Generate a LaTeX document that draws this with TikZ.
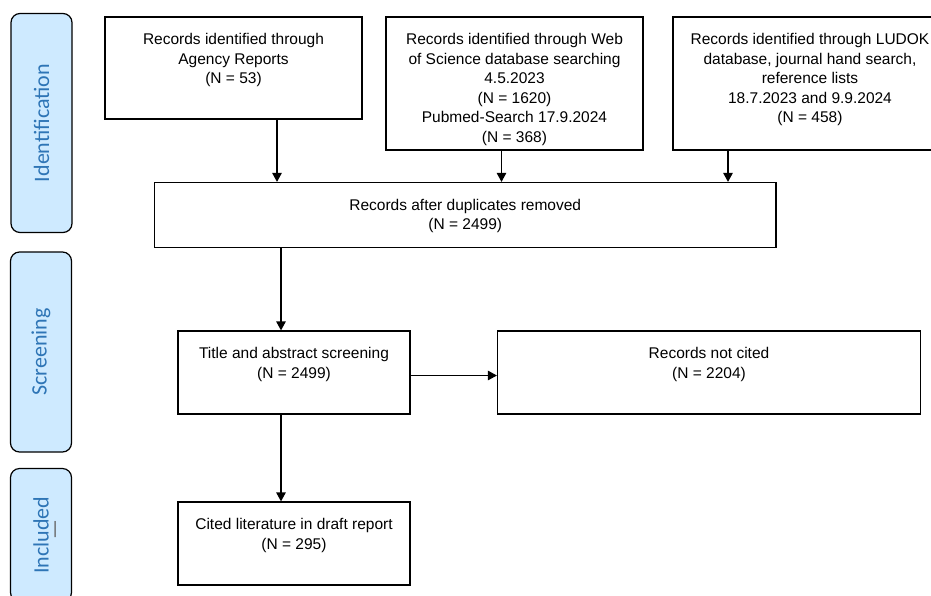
\documentclass[tikz,border=0pt]{standalone}
\usepackage{fontspec}
\setmainfont{Liberation Sans}
\newfontfamily\stagefont{Carlito}
\usetikzlibrary{arrows.meta}
\definecolor{stagefill}{RGB}{206,234,255}
\definecolor{stagetext}{RGB}{46,117,182}
\newcommand{\boxtext}[3]{\parbox[c][#2][t]{#1}{\centering\rule{0pt}{27.5pt}#3}}

\begin{document}
\begin{tikzpicture}[x=1pt, y=-1pt,
    recbox/.style={draw, line width=1.2pt, inner sep=0pt, font=\fontsize{15.5}{19.5}\selectfont},
    stagebox/.style={draw, line width=1.2pt, rounded corners=9pt, fill=stagefill, text=stagetext, rotate=90, minimum height=61pt, inner sep=0pt, font=\stagefont\fontsize{22}{22}\selectfont},
    arr/.style={-{Triangle[length=9pt, width=9.5pt]}, line width=1.2pt}]
          \useasboundingbox (0, 0) rectangle (931, 595);
          \clip (0, 0) rectangle (931, 595);
          \node [stagebox, minimum width=219pt] (ident) at (41.5, 123) {Identification};
          \node [stagebox, minimum width=200pt] (screen) at (41, 352) {Screening};
          \node [stagebox, minimum width=133pt] (incl) at (41, 535) {Included};
          \node [rotate=90, inner sep=0pt, text=black!60, font=\stagefont\fontsize{22}{22}\selectfont] (incldash) at (58, 530) {—};
          \node [recbox] (agency) at (233.5, 68) {\boxtext{257pt}{102pt}{Records identified through\\Agency Reports\\(N = 53)}};
          \node [recbox] (wos) at (514.5, 83.5) {\boxtext{257pt}{133pt}{Records identified through Web\\of Science database searching\\4.5.2023\\(N = 1620)\\Pubmed-Search 17.9.2024\\(N = 368)}};
          \node [recbox] (ludok) at (810, 83.5) {\boxtext{274pt}{133pt}{Records identified through LUDOK\\database, journal hand search,\\reference lists\\18.7.2023 and 9.9.2024\\(N = 458)}};
          \node [recbox] (dup) at (465.25, 215) {\boxtext{621.5pt}{65pt}{Records after duplicates removed\\(N = 2499)}};
          \node [recbox] (title) at (294, 372.5) {\boxtext{232pt}{83pt}{Title and abstract screening\\(N = 2499)}};
          \node [recbox] (notcited) at (709, 372.5) {\boxtext{423pt}{83pt}{Records not cited\\(N = 2204)}};
          \node [recbox] (cited) at (294, 543.5) {\boxtext{232pt}{83pt}{Cited literature in draft report\\(N = 295)}};
          \draw [arr] ([xshift=43.5pt]agency.south) -- ([xshift=43.5pt]agency.south |- dup.north);
          \draw [arr] ([xshift=-13pt]wos.south) -- ([xshift=-13pt]wos.south |- dup.north);
          \draw [arr] ([xshift=-82pt]ludok.south) -- ([xshift=-82pt]ludok.south |- dup.north);
          \draw [arr] ([xshift=-13pt]title.north |- dup.south) -- ([xshift=-13pt]title.north);
          \draw [arr] ([yshift=-3pt]title.east) -- ([yshift=-3pt]title.east -| notcited.west);
          \draw [arr] ([xshift=-13pt]title.south) -- ([xshift=-13pt]cited.north);
        \end{tikzpicture}
\end{document}
